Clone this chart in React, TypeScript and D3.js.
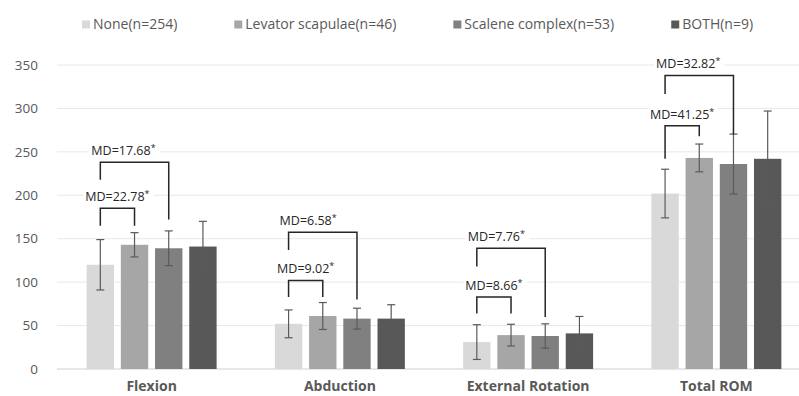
import { useEffect, useRef } from "react";
import * as d3 from "d3";

// Shoulder ROM by group — mean ± SD
const CATEGORIES = ["Flexion", "Abduction", "External Rotation", "Total ROM"];
const SERIES = ["None(n=254)", "Levator scapulae(n=46)", "Scalene complex(n=53)", "BOTH(n=9)"];
const COLORS = ["#d9d9d9", "#a6a6a6", "#808080", "#585858"];

const NONE_MEAN = [120, 52, 31, 202];
const LEVATOR_MEAN = [143, 61, 39, 243];
const SCALENE_MEAN = [139, 58, 38, 236];
const BOTH_MEAN = [141, 58, 41, 242];

const NONE_SD = [29, 16, 20, 28];
const LEVATOR_SD = [14, 15.5, 12.5, 16];
const SCALENE_SD = [20, 12, 14, 34.5];
const BOTH_SD = [29, 16, 19.5, 55];

const MEANS = [NONE_MEAN, LEVATOR_MEAN, SCALENE_MEAN, BOTH_MEAN];
const SDS = [NONE_SD, LEVATOR_SD, SCALENE_SD, BOTH_SD];

const Y_TICKS = [0, 50, 100, 150, 200, 250, 300, 350];

// significance brackets (values in y units): None vs Levator, None vs Scalene
const MD_INNER = ["MD=22.78", "MD=9.02", "MD=8.66", "MD=41.25"];
const INNER_TOP = [185, 102, 83, 280];
const INNER_LEFT_END = [165, 83, 64, 242];
const INNER_RIGHT_END = [165, 83, 64, 268];

const MD_OUTER = ["MD=17.68", "MD=6.58", "MD=7.76", "MD=32.82"];
const OUTER_TOP = [238, 157.5, 139, 338];
const OUTER_LEFT_END = [218, 137, 118, 316.5];
const OUTER_RIGHT_END = [172, 80, 60, 270];

const FONT = "'Open Sans', 'Noto Sans CJK KR', sans-serif";

function buildChart(svgEl: SVGSVGElement) {
  const width = 799;
  const height = 396;
  const svg = d3.select(svgEl).attr("width", width).attr("height", height);
  svg.selectAll("*").remove();

  const y = d3.scaleLinear().domain([0, 350]).range([369, 65]);
  const x0 = d3.scaleBand<string>().domain(CATEGORIES).range([57.5, 810.5]);
  const x1 = d3.scaleBand<string>().domain(SERIES)
    .range([0, x0.bandwidth()])
    .paddingInner(0.2)
    .paddingOuter(0.852);

  const barCenter = (ci: number, si: number) =>
    (x0(CATEGORIES[ci]) as number) + (x1(SERIES[si]) as number) + x1.bandwidth() / 2;

  // Grid
  const grid = svg.append("g");
  Y_TICKS.forEach(t => {
    grid.append("line")
      .attr("x1", 57).attr("x2", width)
      .attr("y1", y(t)).attr("y2", y(t))
      .attr("stroke", t === 0 ? "#d0d0d0" : "#e8e8e8")
      .attr("stroke-width", 1);
    grid.append("text")
      .attr("x", 38).attr("y", y(t))
      .attr("dy", "0.35em")
      .attr("text-anchor", "end")
      .attr("fill", "#595959")
      .style("font-family", FONT)
      .style("font-size", "13.5px")
      .text(t);
  });

  // Bars
  const bars = svg.append("g");
  CATEGORIES.forEach((cat, ci) => {
    SERIES.forEach((s, si) => {
      const v = MEANS[si][ci];
      bars.append("rect")
        .attr("x", (x0(cat) as number) + (x1(s) as number))
        .attr("y", y(v))
        .attr("width", x1.bandwidth())
        .attr("height", y(0) - y(v))
        .attr("fill", COLORS[si]);
    });
  });

  // Error bars
  const err = svg.append("g").attr("stroke", "#5a5a5a").attr("stroke-width", 1.2);
  CATEGORIES.forEach((_, ci) => {
    SERIES.forEach((_, si) => {
      const cx = barCenter(ci, si);
      const m = MEANS[si][ci];
      const sd = SDS[si][ci];
      err.append("line").attr("x1", cx).attr("x2", cx).attr("y1", y(m + sd)).attr("y2", y(m - sd));
      [m + sd, m - sd].forEach(v => {
        err.append("line").attr("x1", cx - 4).attr("x2", cx + 4).attr("y1", y(v)).attr("y2", y(v));
      });
    });
  });

  // Category labels
  CATEGORIES.forEach(cat => {
    svg.append("text")
      .attr("x", (x0(cat) as number) + x0.bandwidth() / 2)
      .attr("y", 391)
      .attr("text-anchor", "middle")
      .attr("fill", "#595959")
      .style("font-family", FONT)
      .style("font-size", "14px")
      .style("font-weight", "bold")
      .text(cat);
  });

  // Brackets
  const br = svg.append("g");
  const drawBracket = (xl: number, xr: number, top: number, le: number, re: number) => {
    br.append("path")
      .attr("d", `M${xl},${y(le)}V${y(top)}H${xr}V${y(re)}`)
      .attr("fill", "none")
      .attr("stroke", "#262626")
      .attr("stroke-width", 1.5);
  };
  const drawLabel = (tx: number, ty: number, anchor: string, label: string) => {
    const g = br.append("g");
    const bg = g.append("rect").attr("fill", "#fff");
    const t = g.append("text")
      .attr("x", tx).attr("y", ty)
      .attr("text-anchor", anchor)
      .attr("fill", "#262626")
      .style("font-family", FONT)
      .style("font-size", "12.5px");
    t.append("tspan").text(label);
    t.append("tspan").attr("dy", -4).style("font-size", "9px").text("*");
    const bb = (t.node() as SVGTextElement).getBBox();
    bg.attr("x", bb.x - 2).attr("y", bb.y).attr("width", bb.width + 6).attr("height", bb.height);
  };

  CATEGORIES.forEach((_, ci) => {
    const c0 = barCenter(ci, 0);
    const c1 = barCenter(ci, 1);
    const c2 = barCenter(ci, 2);
    drawBracket(c0, c1, INNER_TOP[ci], INNER_LEFT_END[ci], INNER_RIGHT_END[ci]);
    drawBracket(c0, c2, OUTER_TOP[ci], OUTER_LEFT_END[ci], OUTER_RIGHT_END[ci]);
  });
  CATEGORIES.forEach((_, ci) => {
    const c0 = barCenter(ci, 0);
    const c1 = barCenter(ci, 1);
    drawLabel((c0 + c1) / 2, y(INNER_TOP[ci]) - 7, "middle", MD_INNER[ci]);
    drawLabel(c0 - 9, y(OUTER_TOP[ci]) - 7, "start", MD_OUTER[ci]);
  });

  // Legend
  const lg = svg.append("g");
  let lx = 82;
  SERIES.forEach((s, si) => {
    lg.append("rect")
      .attr("x", lx).attr("y", 20.5)
      .attr("width", 8).attr("height", 8)
      .attr("fill", COLORS[si]);
    const t = lg.append("text")
      .attr("x", lx + 11).attr("y", 29)
      .attr("fill", "#595959")
      .style("font-family", FONT)
      .style("font-size", "14px")
      .text(s);
    lx += 11 + (t.node() as SVGTextElement).getComputedTextLength() + 57;
  });
}

export default function App() {
  const svgRef = useRef<SVGSVGElement>(null);
  useEffect(() => {
    if (svgRef.current) buildChart(svgRef.current);
  }, []);
  return (
    <svg
      ref={svgRef}
      style={{ position: "absolute", left: 0, top: 0, display: "block", background: "#fff" }}
    />
  );
}
